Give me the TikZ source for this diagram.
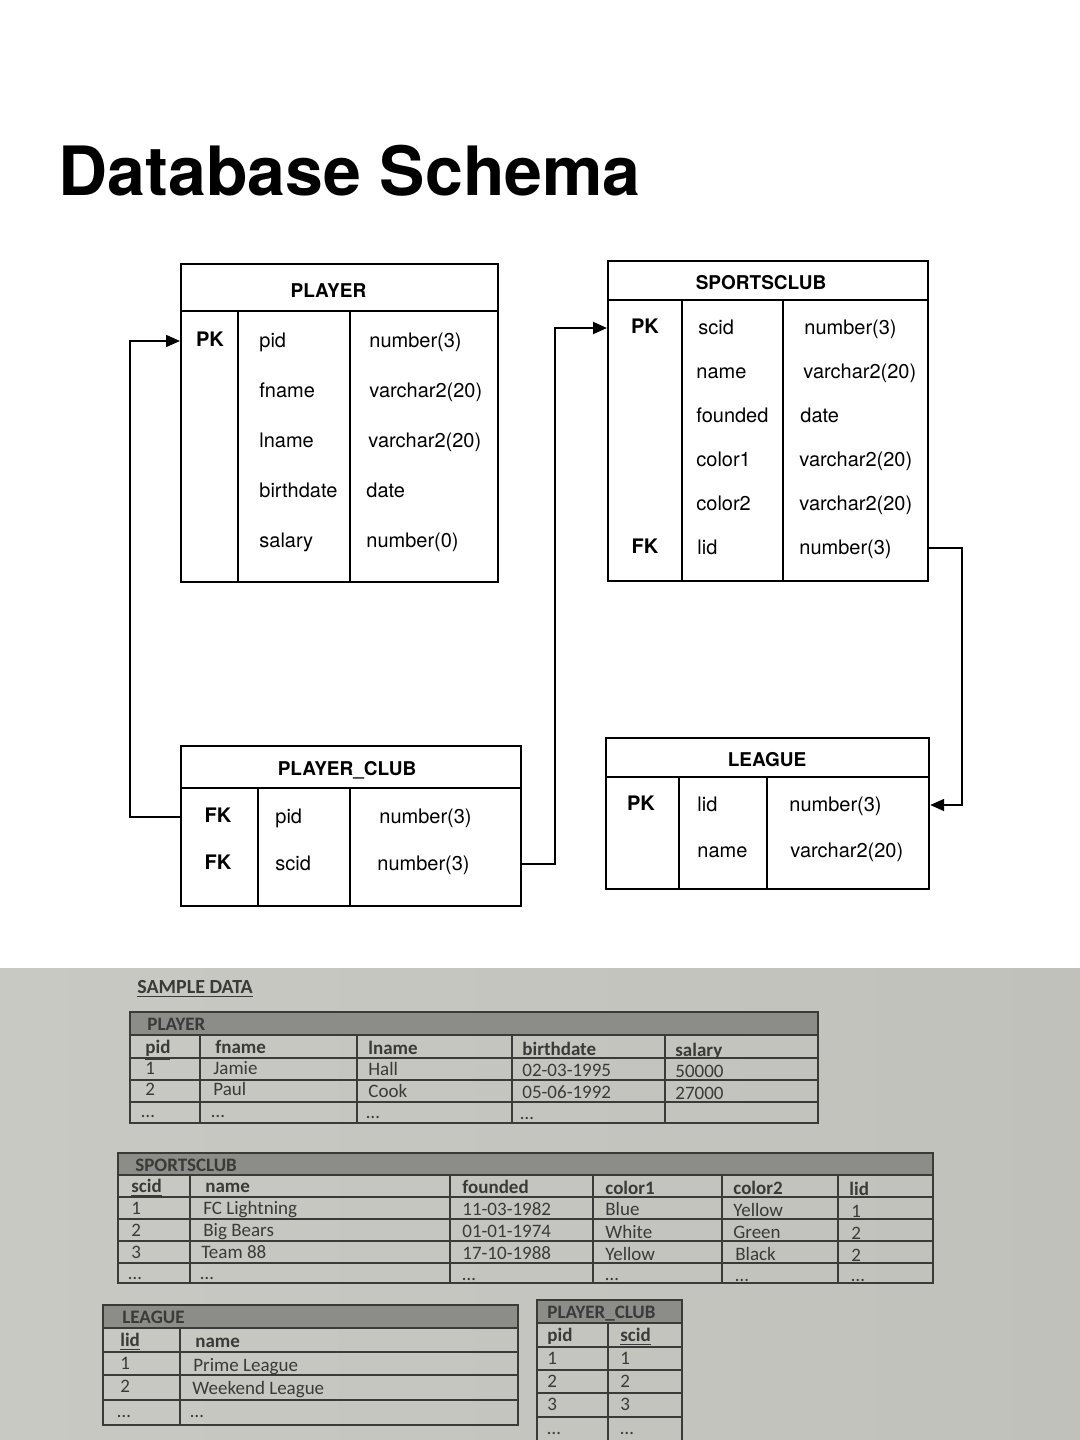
\documentclass[tikz,border=0pt]{standalone}
\usepackage{fontspec}
\setmainfont{TeX Gyre Heros}
\newfontfamily\carlito{Carlito}
\usetikzlibrary{arrows.meta}

\definecolor{photoL}{HTML}{C8C9C3}
\definecolor{photoM}{HTML}{AEAFA9}
\definecolor{photoR}{HTML}{C0C1BB}
\definecolor{bandgray}{HTML}{8C8D88}
\definecolor{inkgray}{HTML}{3A3A38}

\tikzset{
  frame/.style={draw, line width=1.1pt, inner sep=0pt, anchor=north west},
  tname/.style={font=\bfseries\fontsize{9.5}{11}\selectfont},
  key/.style={font=\bfseries\fontsize{10}{12}\selectfont, text height=7.2pt, text depth=2.1pt},
  field/.style={font=\fontsize{10}{12}\selectfont, anchor=west, inner sep=0pt, text height=7.2pt, text depth=2.1pt, yshift=-0.6pt},
  link/.style={line width=0.9pt, -{Triangle[length=7pt,width=6pt]}},
  cell/.style={font=\carlito\fontsize{9.5}{11}\selectfont, anchor=west, inner sep=0pt, text=inkgray, text height=6.5pt, text depth=2.2pt, yshift=-1.4pt},
  colhead/.style={cell, font=\carlito\bfseries\fontsize{9.5}{11}\selectfont},
  gridline/.style={draw=inkgray, line width=0.9pt}
}

\begin{document}
\begin{tikzpicture}[x=0.5pt, y=-0.5pt]
        \useasboundingbox (0,0) rectangle (1080,1440);

        \node[anchor=base west, inner sep=0pt, font=\bfseries\fontsize{34}{40}\selectfont] (title) at (58,195) {Database Schema};

        % schema tables
        \node[frame, minimum width=158.5pt, minimum height=159pt] (player) at (180,263) {};
        \draw[line width=1.1pt] (180,311) -- (497,311);
        \draw[line width=1.1pt] (238,311) -- (238,581);
        \draw[line width=1.1pt] (350,311) -- (350,581);
        \node[tname] (plname) at (328.5,291) {PLAYER};
        \node[key] (plpk) at (210,341) {PK};
        \node[field] (plpid) at (259,341) {pid};
        \node[field] (plpidt) at (369,341) {number(3)};
        \node[field] (plfn) at (259,391) {fname};
        \node[field] (plfnt) at (369,391) {varchar2(20)};
        \node[field] (plln) at (259,441) {lname};
        \node[field] (pllnt) at (368,441) {varchar2(20)};
        \node[field] (plbd) at (259,491) {birthdate};
        \node[field] (plbdt) at (366,491) {date};
        \node[field] (plsal) at (259,541) {salary};
        \node[field] (plsalt) at (366,541) {number(0)};

        \node[frame, minimum width=160pt, minimum height=160pt] (sclub) at (607,260) {};
        \draw[line width=1.1pt] (607,300) -- (927,300);
        \draw[line width=1.1pt] (682,300) -- (682,580);
        \draw[line width=1.1pt] (783,300) -- (783,580);
        \node[tname] (scname) at (761,283) {SPORTSCLUB};
        \node[key] (scpk) at (645,328) {PK};
        \node[field] (scid) at (698,328) {scid};
        \node[field] (scidt) at (804,328) {number(3)};
        \node[field] (scnm) at (696,372) {name};
        \node[field] (scnmt) at (803,372) {varchar2(20)};
        \node[field] (scfd) at (696,416) {founded};
        \node[field] (scfdt) at (800,416) {date};
        \node[field] (scc1) at (696,460) {color1};
        \node[field] (scc1t) at (799,460) {varchar2(20)};
        \node[field] (scc2) at (696,504) {color2};
        \node[field] (scc2t) at (799,504) {varchar2(20)};
        \node[key] (scfk) at (645,548) {FK};
        \node[field] (sclid) at (697,548) {lid};
        \node[field] (sclidt) at (799,548) {number(3)};

        \node[frame, minimum width=170pt, minimum height=80pt] (pclub) at (180,745) {};
        \draw[line width=1.1pt] (180,788) -- (520,788);
        \draw[line width=1.1pt] (258,788) -- (258,905);
        \draw[line width=1.1pt] (350,788) -- (350,905);
        \node[tname] (pcname) at (347,770) {PLAYER\_CLUB};
        \node[key] (pcfk1) at (218,817) {FK};
        \node[field] (pcpid) at (275,817) {pid};
        \node[field] (pcpidt) at (379,817) {number(3)};
        \node[key] (pcfk2) at (218,864) {FK};
        \node[field] (pcscid) at (275,864) {scid};
        \node[field] (pcscidt) at (377,864) {number(3)};

        \node[frame, minimum width=161.5pt, minimum height=75.5pt] (league) at (605,737) {};
        \draw[line width=1.1pt] (605,777) -- (928,777);
        \draw[line width=1.1pt] (679,777) -- (679,888);
        \draw[line width=1.1pt] (767,777) -- (767,888);
        \node[tname] (lgname) at (767,760) {LEAGUE};
        \node[key] (lgpk) at (641,805) {PK};
        \node[field] (lglid) at (697,805) {lid};
        \node[field] (lglidt) at (789,805) {number(3)};
        \node[field] (lgnm) at (697,851) {name};
        \node[field] (lgnmt) at (790,851) {varchar2(20)};

        % foreign keys
        \draw[link] (pclub.west |- pcfk1) -- ++(-50,0) |- (player.west |- plpk);
        \draw[link] (pclub.east |- pcfk2) -- ++(33,0) |- (sclub.west |- scpk);
        \draw[link] (sclub.east |- scfk) -- ++(33,0) |- (league.east |- lgpk);

        % sample data photo
        \shade[left color=photoL, middle color=photoM, right color=photoR] (0,968) rectangle (1080,1440);
        \node[colhead, font=\carlito\bfseries\fontsize{10}{12}\selectfont] (sample) at (137,986) {\underline{SAMPLE DATA}};

        \fill[bandgray] (130,1012) rectangle (818,1035);
        \draw[gridline] (130,1012) rectangle (818,1123);
        \draw[gridline] (130,1035) -- (818,1035);
        \draw[gridline] (130,1058) -- (818,1058);
        \draw[gridline] (130,1080) -- (818,1080);
        \draw[gridline] (130,1102) -- (818,1102);
        \draw[gridline] (200,1035) -- (200,1123);
        \draw[gridline] (357,1035) -- (357,1123);
        \draw[gridline] (512,1035) -- (512,1123);
        \draw[gridline] (665,1035) -- (665,1123);
        \node[colhead] (dplh) at (147,1023) {PLAYER};
        \node[colhead] (dpl1) at (145,1046) {\underline{pid}};
        \node[colhead] (dpl2) at (215,1046) {fname};
        \node[colhead] (dpl3) at (368,1047) {lname};
        \node[colhead] (dpl4) at (522,1048) {birthdate};
        \node[colhead] (dpl5) at (675,1049) {salary};
        \node[cell] (dpa1) at (145,1067) {1};
        \node[cell] (dpa2) at (213,1067) {Jamie};
        \node[cell] (dpa3) at (368,1068) {Hall};
        \node[cell] (dpa4) at (522,1069) {02-03-1995};
        \node[cell] (dpa5) at (675,1070) {50000};
        \node[cell] (dpb1) at (145,1088) {2};
        \node[cell] (dpb2) at (213,1088) {Paul};
        \node[cell] (dpb3) at (368,1090) {Cook};
        \node[cell] (dpb4) at (522,1091) {05-06-1992};
        \node[cell] (dpb5) at (675,1092) {27000};
        \node[cell] (dpc1) at (141,1110) {\dots};
        \node[cell] (dpc2) at (211,1110) {\dots};
        \node[cell] (dpc3) at (366,1111) {\dots};
        \node[cell] (dpc4) at (520,1112) {\dots};

        \fill[bandgray] (118,1153) rectangle (933,1175);
        \draw[gridline] (118,1153) rectangle (933,1283);
        \draw[gridline] (118,1175) -- (933,1175);
        \draw[gridline] (118,1197) -- (933,1197);
        \draw[gridline] (118,1219) -- (933,1219);
        \draw[gridline] (118,1241) -- (933,1241);
        \draw[gridline] (118,1263) -- (933,1263);
        \draw[gridline] (190,1175) -- (190,1283);
        \draw[gridline] (450,1175) -- (450,1283);
        \draw[gridline] (593,1175) -- (593,1283);
        \draw[gridline] (722,1175) -- (722,1283);
        \draw[gridline] (838,1175) -- (838,1283);
        \node[colhead] (dsch) at (135,1164) {SPORTSCLUB};
        \node[colhead] (dsc1) at (131,1185) {\underline{scid}};
        \node[colhead] (dsc2) at (205,1185) {name};
        \node[colhead] (dsc3) at (462,1186) {founded};
        \node[colhead] (dsc4) at (605,1187) {color1};
        \node[colhead] (dsc5) at (733,1187) {color2};
        \node[colhead] (dsc6) at (849,1188) {lid};
        \node[cell] (dsa1) at (131,1207) {1};
        \node[cell] (dsa2) at (203,1207) {FC Lightning};
        \node[cell] (dsa3) at (462,1208) {11-03-1982};
        \node[cell] (dsa4) at (605,1208) {Blue};
        \node[cell] (dsa5) at (733,1209) {Yellow};
        \node[cell] (dsa6) at (851,1210) {1};
        \node[cell] (dsb1) at (131,1229) {2};
        \node[cell] (dsb2) at (203,1229) {Big Bears};
        \node[cell] (dsb3) at (462,1230) {01-01-1974};
        \node[cell] (dsb4) at (605,1231) {White};
        \node[cell] (dsb5) at (733,1231) {Green};
        \node[cell] (dsb6) at (851,1232) {2};
        \node[cell] (dsc1r) at (131,1251) {3};
        \node[cell] (dsc2r) at (201,1251) {Team 88};
        \node[cell] (dsc3r) at (462,1252) {17-10-1988};
        \node[cell] (dsc4r) at (605,1253) {Yellow};
        \node[cell] (dsc5r) at (735,1253) {Black};
        \node[cell] (dsc6r) at (851,1254) {2};
        \node[cell] (dsd1) at (128,1272) {\dots};
        \node[cell] (dsd2) at (200,1272) {\dots};
        \node[cell] (dsd3) at (462,1273) {\dots};
        \node[cell] (dsd4) at (605,1273) {\dots};
        \node[cell] (dsd5) at (735,1274) {\dots};
        \node[cell] (dsd6) at (851,1274) {\dots};

        \fill[bandgray] (103,1305) rectangle (518,1328);
        \draw[gridline] (103,1305) rectangle (518,1425);
        \draw[gridline] (103,1328) -- (518,1328);
        \draw[gridline] (103,1352) -- (518,1352);
        \draw[gridline] (103,1375) -- (518,1375);
        \draw[gridline] (103,1400) -- (518,1400);
        \draw[gridline] (180,1328) -- (180,1425);
        \node[colhead] (dlgh) at (122,1316) {LEAGUE};
        \node[colhead] (dlg1) at (120,1339) {\underline{lid}};
        \node[colhead] (dlg2) at (195,1340) {name};
        \node[cell] (dla1) at (120,1362) {1};
        \node[cell] (dla2) at (193,1364) {Prime League};
        \node[cell] (dlb1) at (120,1385) {2};
        \node[cell] (dlb2) at (192,1387) {Weekend League};
        \node[cell] (dlc1) at (117,1410) {\dots};
        \node[cell] (dlc2) at (190,1410) {\dots};

        \fill[bandgray] (537,1300) rectangle (682,1323);
        \draw[gridline] (537,1440) -- (537,1300) -- (682,1300) -- (682,1440);
        \draw[gridline] (537,1323) -- (682,1323);
        \draw[gridline] (537,1347) -- (682,1347);
        \draw[gridline] (537,1370) -- (682,1370);
        \draw[gridline] (537,1393) -- (682,1393);
        \draw[gridline] (537,1417) -- (682,1417);
        \draw[gridline] (608,1323) -- (608,1440);
        \node[colhead] (dpch) at (547,1311) {PLAYER\_CLUB};
        \node[colhead] (dpc1) at (547,1334) {\underline{pid}};
        \node[colhead] (dpc2) at (620,1334) {\underline{scid}};
        \node[cell] (dqa1) at (547,1357) {1};
        \node[cell] (dqa2) at (620,1357) {1};
        \node[cell] (dqb1) at (547,1380) {2};
        \node[cell] (dqb2) at (620,1380) {2};
        \node[cell] (dqc1) at (547,1403) {3};
        \node[cell] (dqc2) at (620,1403) {3};
        \node[cell] (dqd1) at (547,1427) {\dots};
        \node[cell] (dqd2) at (620,1427) {\dots};

    \end{tikzpicture}
\end{document}
